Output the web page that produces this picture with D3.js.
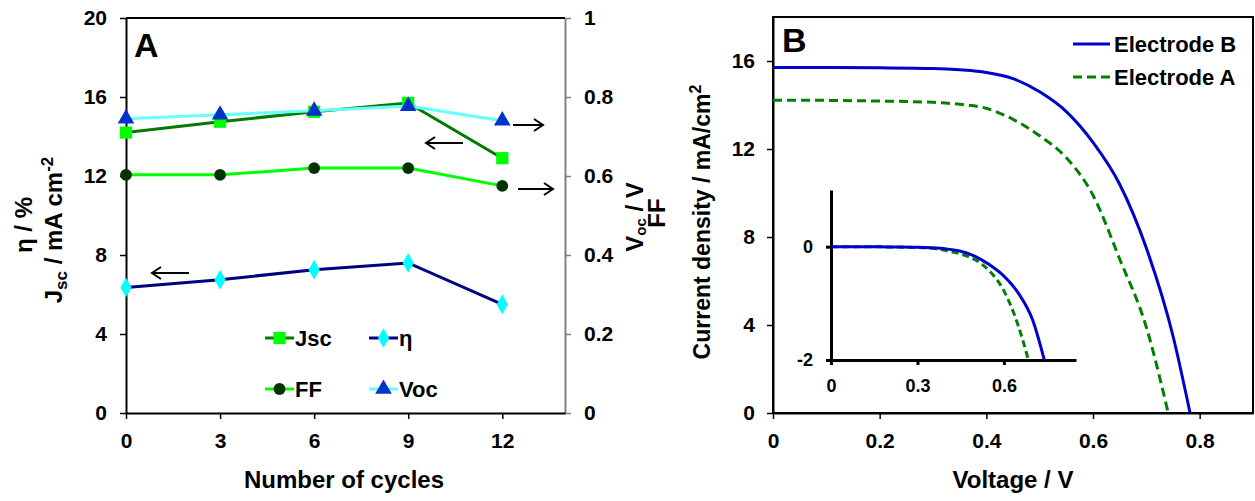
<!DOCTYPE html>
<html>
<head>
    <script src="https://d3js.org/d3.v7.min.js"></script>
    <style>
        body { margin: 0; background: white; }
        text { font-family: "Liberation Sans", Arial, sans-serif; font-weight: bold; fill: black; }
    </style>
</head>
<body>
<script>
// panel A data
const cycles = [0, 3, 6, 9, 12];
const jsc = [14.2, 14.75, 15.25, 15.7, 12.9];
const eta = [6.35, 6.75, 7.25, 7.6, 5.5];
const ff = [0.603, 0.603, 0.62, 0.62, 0.575];
const voc = [0.745, 0.755, 0.765, 0.777, 0.74];
const leftTicks = [0, 4, 8, 12, 16, 20];
const rightTicks = [0, 0.2, 0.4, 0.6, 0.8, 1];

// panel B data
const voltB = [0, 0.1, 0.2, 0.3, 0.35, 0.4, 0.45, 0.5, 0.55, 0.6, 0.65, 0.7, 0.75, 0.782];
const jB = [15.7, 15.7, 15.69, 15.66, 15.6, 15.48, 15.2, 14.6, 13.7, 12.3, 10.4, 7.5, 3.5, 0];
const voltA = [0, 0.1, 0.2, 0.3, 0.35, 0.4, 0.45, 0.5, 0.55, 0.6, 0.65, 0.7, 0.741];
const jA = [14.22, 14.21, 14.18, 14.12, 14.03, 13.85, 13.35, 12.6, 11.6, 9.9, 7.0, 3.9, 0];

// inset data
const insetVB = [0, 0.1, 0.2, 0.3, 0.35, 0.4, 0.45, 0.5, 0.55, 0.6, 0.65, 0.7, 0.74];
const insetJB = [0, 0, -0.005, -0.01, -0.02, -0.04, -0.08, -0.17, -0.32, -0.52, -0.82, -1.3, -2];
const insetVA = [0, 0.1, 0.2, 0.3, 0.35, 0.4, 0.45, 0.5, 0.55, 0.6, 0.65, 0.685];
const insetJA = [0, 0, -0.005, -0.015, -0.03, -0.07, -0.13, -0.23, -0.43, -0.78, -1.4, -2];

const svg = d3.select('body').append('svg')
    .attr('width', 1255)
    .attr('height', 501);

// number format like the original: 0, 0.2, 1, -2
const fmt = d => String(d).replace('−', '-');

function styleAxis(g, size, width) {
    g.selectAll('text').style('font-size', size + 'px').style('font-family', '"Liberation Sans", Arial, sans-serif');
    g.select('.domain').attr('stroke-width', width);
    g.selectAll('.tick line').attr('stroke-width', width === 3 ? 3 : 1.5);
    return g;
}

// ---------- panel A ----------
const xA = d3.scaleLinear().domain([0, 14]).range([126, 565]);
const yL = d3.scaleLinear().domain([0, 20]).range([413, 18]);
const yR = d3.scaleLinear().domain([0, 1]).range([413, 18]);

svg.append('line').attr('x1', 126).attr('x2', 565).attr('y1', 18).attr('y2', 18)
    .attr('stroke', 'black').attr('stroke-width', 2);

styleAxis(svg.append('g').attr('transform', 'translate(126,0)')
    .call(d3.axisLeft(yL).tickValues(leftTicks).tickSize(6).tickSizeOuter(0).tickPadding(13)), 21, 2);
const axR = styleAxis(svg.append('g').attr('transform', 'translate(565,0)')
    .call(d3.axisRight(yR).tickValues(rightTicks).tickSize(6).tickSizeOuter(0).tickPadding(13).tickFormat(fmt)), 21, 2);
axR.select('.domain').attr('stroke', '#808080');
axR.selectAll('.tick line').attr('stroke', '#808080');
styleAxis(svg.append('g').attr('transform', 'translate(0,413)')
    .call(d3.axisBottom(xA).tickValues(cycles).tickSize(6).tickSizeOuter(0).tickPadding(14)), 21, 2);

function series(xs, ys, yScale, lineColor, shape, fill, size) {
    const pts = xs.map((x, i) => [xA(x), yScale(ys[i])]);
    svg.append('path').attr('d', d3.line()(pts))
        .attr('fill', 'none').attr('stroke', lineColor).attr('stroke-width', 3);
    svg.append('g').selectAll('path').data(pts).enter().append('path')
        .attr('transform', d => `translate(${d[0]},${d[1]})`)
        .attr('d', d3.symbol().type(shape).size(size))
        .attr('fill', fill);
}
series(cycles, jsc, yL, '#007a00', d3.symbolSquare, '#00ff00', 150);
series(cycles, eta, yL, '#000080', d3.symbolDiamond, '#00ffff', 110);
series(cycles, ff, yR, '#00ff00', d3.symbolCircle, '#003300', 110);
series(cycles, voc, yR, '#66ffff', d3.symbolTriangle, '#0033cc', 120);

// arrows
function arrow(x1, x2, y) {
    const dir = x2 > x1 ? -1 : 1;
    svg.append('path')
        .attr('d', `M${x1},${y}L${x2},${y}M${x2 + dir * 9},${y - 6}L${x2},${y}L${x2 + dir * 9},${y + 6}`)
        .attr('fill', 'none').attr('stroke', 'black').attr('stroke-width', 2);
}
arrow(513, 543, 125);
arrow(518, 553, 189);
arrow(463, 426, 143);
arrow(189, 152, 273);

// legend A
const legA = [
    { name: 'Jsc', line: '#007a00', shape: d3.symbolSquare, fill: '#00ff00', size: 150, x: 265, y: 338 },
    { name: 'η', line: '#000080', shape: d3.symbolDiamond, fill: '#00ffff', size: 110, x: 369, y: 338 },
    { name: 'FF', line: '#00ff00', shape: d3.symbolCircle, fill: '#003300', size: 110, x: 265, y: 389 },
    { name: 'Voc', line: '#66ffff', shape: d3.symbolTriangle, fill: '#0033cc', size: 120, x: 369, y: 389 }
];
legA.forEach(d => {
    svg.append('line').attr('x1', d.x).attr('x2', d.x + 29).attr('y1', d.y).attr('y2', d.y)
        .attr('stroke', d.line).attr('stroke-width', 3);
    svg.append('path').attr('transform', `translate(${d.x + 14.5},${d.y})`)
        .attr('d', d3.symbol().type(d.shape).size(d.size)).attr('fill', d.fill);
    svg.append('text').attr('x', d.x + 30).attr('y', d.y + 8).style('font-size', '22px').text(d.name);
});

svg.append('text').attr('x', 134).attr('y', 57).style('font-size', '34px').text('A');

// axis titles A
svg.append('text').attr('x', 344).attr('y', 488).attr('text-anchor', 'middle')
    .style('font-size', '24px').text('Number of cycles');
svg.append('text').attr('transform', 'translate(32,225) rotate(-90)').attr('text-anchor', 'middle')
    .style('font-size', '24px').text('η / %');
const tJ = svg.append('text').attr('transform', 'translate(62,230) rotate(-90)').attr('text-anchor', 'middle')
    .style('font-size', '24px');
tJ.append('tspan').text('J');
tJ.append('tspan').attr('dy', 5).style('font-size', '17px').text('sc');
tJ.append('tspan').attr('dy', -5).text(' / mA cm');
tJ.append('tspan').attr('dy', -9).style('font-size', '17px').text('-2');
const tV = svg.append('text').attr('transform', 'translate(643,217) rotate(-90)').attr('text-anchor', 'middle')
    .style('font-size', '24px');
tV.append('tspan').text('V');
tV.append('tspan').attr('dy', 3).style('font-size', '15px').text('oc');
tV.append('tspan').attr('dy', -3).text(' / V');
svg.append('text').attr('transform', 'translate(665,213) rotate(-90)').attr('text-anchor', 'middle')
    .style('font-size', '24px').text('FF');

// ---------- panel B ----------
const xB = d3.scaleLinear().domain([0, 0.9]).range([773, 1253]);
const yB = d3.scaleLinear().domain([0, 18]).range([413, 17]);

svg.append('rect').attr('x', 773).attr('y', 17).attr('width', 480).attr('height', 396)
    .attr('fill', 'none').attr('stroke', 'black').attr('stroke-width', 2);
styleAxis(svg.append('g').attr('transform', 'translate(773,0)')
    .call(d3.axisLeft(yB).tickValues([0, 4, 8, 12, 16]).tickSize(6).tickSizeOuter(0).tickPadding(12)), 21, 2);
styleAxis(svg.append('g').attr('transform', 'translate(0,413)')
    .call(d3.axisBottom(xB).tickValues([0, 0.2, 0.4, 0.6, 0.8]).tickSize(6).tickSizeOuter(0).tickPadding(14).tickFormat(fmt)), 21, 2);

const lineB = d3.line().x(d => xB(d[0])).y(d => yB(d[1])).curve(d3.curveMonotoneX);
svg.append('path').attr('d', lineB(voltB.map((v, i) => [v, jB[i]])))
    .attr('fill', 'none').attr('stroke', '#0000cc').attr('stroke-width', 3);
svg.append('path').attr('d', lineB(voltA.map((v, i) => [v, jA[i]])))
    .attr('fill', 'none').attr('stroke', '#008000').attr('stroke-width', 3).attr('stroke-dasharray', '9,5');

// legend B
[{ name: 'Electrode B', color: '#0000cc', dash: null, y: 44 },
 { name: 'Electrode A', color: '#008000', dash: '9,5', y: 77 }].forEach(d => {
    svg.append('line').attr('x1', 1073).attr('x2', 1110).attr('y1', d.y).attr('y2', d.y)
        .attr('stroke', d.color).attr('stroke-width', 3).attr('stroke-dasharray', d.dash);
    svg.append('text').attr('x', 1114).attr('y', d.y + 8).style('font-size', '22px').text(d.name);
});

svg.append('text').attr('x', 782).attr('y', 52).style('font-size', '34px').text('B');

svg.append('text').attr('x', 1013).attr('y', 488).attr('text-anchor', 'middle')
    .style('font-size', '24px').text('Voltage / V');
const tC = svg.append('text').attr('transform', 'translate(710,222) rotate(-90)').attr('text-anchor', 'middle')
    .style('font-size', '23px');
tC.append('tspan').text('Current density / mA/cm');
tC.append('tspan').attr('dy', -9).style('font-size', '16px').text('2');

// inset
const xI = d3.scaleLinear().domain([0, 0.85]).range([831, 1076]);
const yI = d3.scaleLinear().domain([-2, 1]).range([360, 190]);
const inset = svg.append('g');
styleAxis(inset.append('g').attr('transform', 'translate(831,0)')
    .call(d3.axisLeft(yI).tickValues([0, -2]).tickSize(5).tickSizeOuter(0).tickPadding(13).tickFormat(fmt)), 18, 3);
styleAxis(inset.append('g').attr('transform', 'translate(0,360)')
    .call(d3.axisBottom(xI).tickValues([0, 0.3, 0.6]).tickSize(5).tickSizeOuter(0).tickPadding(14).tickFormat(fmt)), 18, 3);

const lineI = d3.line().x(d => xI(d[0])).y(d => yI(d[1])).curve(d3.curveMonotoneX);
inset.append('path').attr('d', lineI(insetVA.map((v, i) => [v, insetJA[i]])))
    .attr('fill', 'none').attr('stroke', '#008000').attr('stroke-width', 3).attr('stroke-dasharray', '7,4');
inset.append('path').attr('d', lineI(insetVB.map((v, i) => [v, insetJB[i]])))
    .attr('fill', 'none').attr('stroke', '#0000cc').attr('stroke-width', 3);
</script>
</body>
</html>
